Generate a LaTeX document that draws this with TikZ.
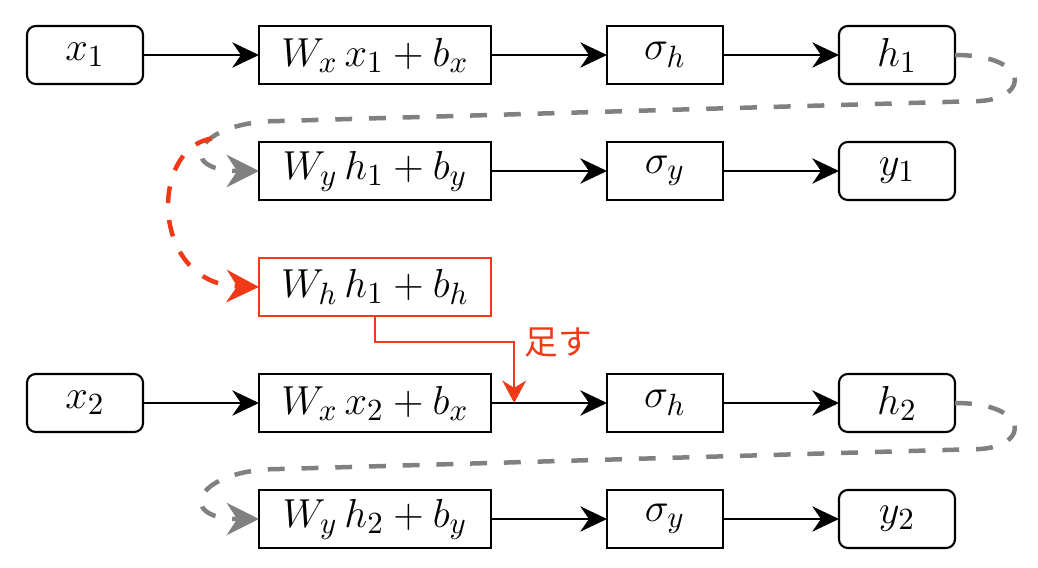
\documentclass[tikz,border=0pt]{standalone}
\usepackage{amsmath}
\usepackage{fontspec}
\newfontfamily\jpfont{Noto Sans CJK JP}
\usetikzlibrary{arrows.meta,positioning,calc}
\definecolor{addred}{RGB}{240,58,23}

\begin{document}
\begin{tikzpicture}[
            block/.style={
                draw,
                line width=0.75pt,
                minimum width=14.5mm,
                minimum height=7.25mm,
                inner sep=1pt,
                outer sep=0pt,
                font=\fontsize{15pt}{18pt}\selectfont
            },
            wideblock/.style={
                block,
                minimum width=29mm
            },
            endblock/.style={
                block,
                rounded corners=1.1mm
            },
            flow/.style={
                -{Stealth[length=9.5pt,width=9pt]},
                line width=0.75pt
            },
            carry/.style={
                -{Stealth[length=11.5pt,width=11.5pt]},
                line width=1.6pt,
                dash pattern=on 6pt off 6pt
            },
            node distance=7.25mm and 14.5mm
        ]

            \useasboundingbox (0,0) rectangle (12.975,-7.1);

            % --- Step 1: input x_1 ---
            \node[endblock] (x1) at (1.0625,-0.6875) {$x_1$};
            \node[wideblock, right=of x1] (Wx1) {$W_x\, x_1 + b_x$};
            \node[block, right=of Wx1] (sh1) {$\sigma_h$};
            \node[endblock, right=of sh1] (h1) {$h_1$};

            % --- Step 1: output y_1 ---
            \node[wideblock, below=of Wx1] (Wy1) {$W_y\, h_1 + b_y$};
            \node[block, below=of sh1] (sy1) {$\sigma_y$};
            \node[endblock, below=of h1] (y1) {$y_1$};

            % --- Hidden state carried over ---
            \node[wideblock, draw=addred, below=of Wy1] (Wh1) {$W_h\, h_1 + b_h$};

            % --- Step 2: input x_2 ---
            \node[wideblock, below=of Wh1] (Wx2) {$W_x\, x_2 + b_x$};
            \node[endblock, left=of Wx2] (x2) {$x_2$};
            \node[block, right=of Wx2] (sh2) {$\sigma_h$};
            \node[endblock, right=of sh2] (h2) {$h_2$};

            % --- Step 2: output y_2 ---
            \node[wideblock, below=of Wx2] (Wy2) {$W_y\, h_2 + b_y$};
            \node[block, below=of sh2] (sy2) {$\sigma_y$};
            \node[endblock, below=of h2] (y2) {$y_2$};

            % --- Forward arrows ---
            \foreach \a/\b in {x1/Wx1,Wx1/sh1,sh1/h1,Wy1/sy1,sy1/y1,
                               x2/Wx2,Wx2/sh2,sh2/h2,Wy2/sy2,sy2/y2} {
                \draw[flow] (\a) -- (\b);
            }

            % --- h_t fed back to the output row ---
            \foreach \h/\w/\s in {h1/Wy1/s1,h2/Wy2/s2} {
                \draw[carry, gray]
                    (\h.east) .. controls +(0.9375,0) and +(0.625,0.0375)
                    .. ($(\h.east)+(0.3125,-0.575)$)
                    -- ($(\w.west)+(0.2625,0.625)$)
                    to[out=180,in=180,looseness=4] coordinate[pos=0.4] (\s) (\w.west);
            }

            % --- h_1 to the next step ---
            \draw[carry, addred]
                (s1) .. controls +(-0.775,-0.125) and +(-1.3625,0.0375) .. (Wh1.west);

            \coordinate (join) at ($(Wx2.east)!0.2!(sh2.west)$);
            \draw[addred, line width=0.75pt, -{Stealth[length=8pt,width=8.5pt]}]
                (Wh1.south) -- ++(0,-0.325) -| node[right, pos=0.5, text=addred,
                font=\jpfont\large] {足す} (join);
        \end{tikzpicture}
\end{document}
